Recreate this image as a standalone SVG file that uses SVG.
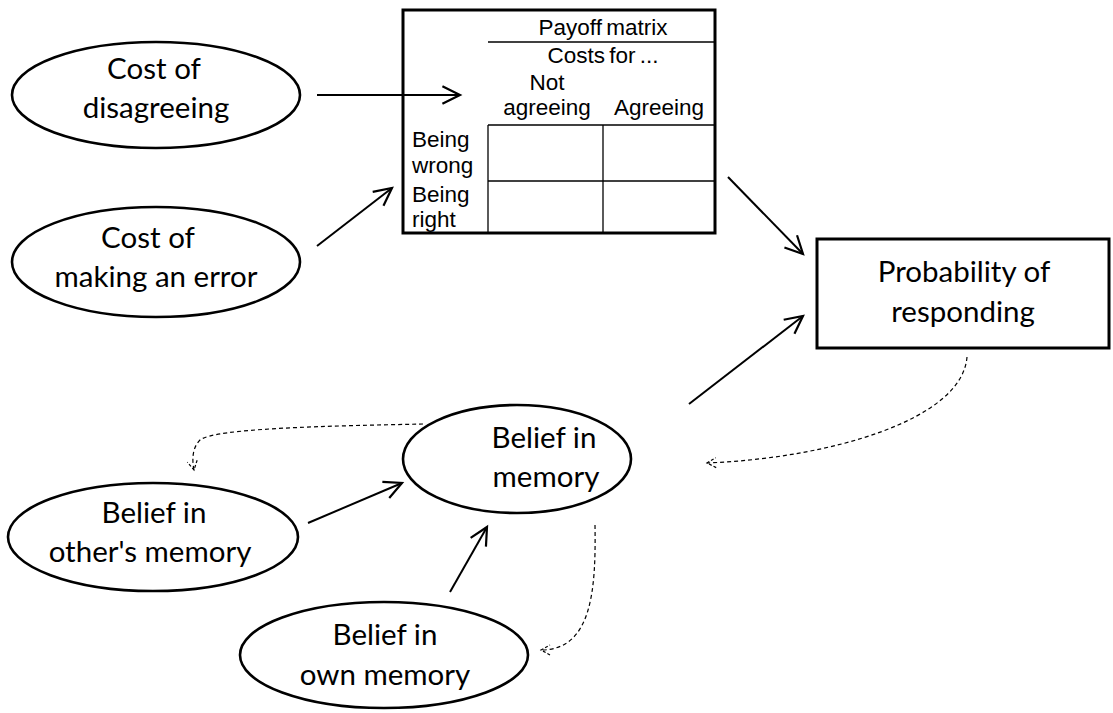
<svg xmlns="http://www.w3.org/2000/svg" width="1113" height="713" viewBox="0 0 1113 713">
<style>
.node{fill:#fff;stroke:#000;stroke-width:2.6}
.lbl{font-family:Lato,"Liberation Sans",sans-serif;font-size:29.5px;fill:#000;text-anchor:middle}
.mt{font-family:"Liberation Sans",Arial,sans-serif;font-size:22.5px;fill:#000}
.grid{stroke:#000;stroke-width:1.3;fill:none}
.arr{stroke:#000;stroke-width:2;fill:none;marker-end:url(#ah)}
.dash{stroke:#000;stroke-width:1.2;fill:none;stroke-dasharray:4 3;marker-end:url(#ahd)}
</style>
<defs>
<marker id="ah" markerUnits="userSpaceOnUse" markerWidth="22" markerHeight="22" refX="17" refY="9" orient="auto" viewBox="0 0 20 18">
<path d="M1,1 L17,9 L1,17" fill="none" stroke="#000" stroke-width="2"/>
</marker>
<marker id="ahd" markerUnits="userSpaceOnUse" markerWidth="14" markerHeight="14" refX="10" refY="6" orient="auto" viewBox="0 0 14 12">
<path d="M1,1 L10,6 L1,11" fill="none" stroke="#000" stroke-width="1.2" stroke-dasharray="3 2"/>
</marker>
</defs>
<rect width="1113" height="713" fill="#fff"/>

<g id="matrix">
<rect x="403" y="10" width="312" height="223" fill="#fff" stroke="#000" stroke-width="3"/>
<line class="grid" x1="488" y1="42" x2="715" y2="42"/>
<line class="grid" x1="488" y1="125" x2="715" y2="125"/>
<line class="grid" x1="488" y1="181" x2="715" y2="181"/>
<line class="grid" x1="488" y1="125" x2="488" y2="233"/>
<line class="grid" x1="603" y1="125" x2="603" y2="233"/>
<text class="mt" x="603" y="35" text-anchor="middle" font-size="24" word-spacing="-2">Payoff matrix</text>
<text class="mt" x="603" y="63" text-anchor="middle" word-spacing="-2">Costs for ...</text>
<text class="mt" x="547" y="90" text-anchor="middle">Not</text>
<text class="mt" x="547" y="115" text-anchor="middle">agreeing</text>
<text class="mt" x="659" y="115" text-anchor="middle">Agreeing</text>
<text class="mt" x="412" y="147">Being</text>
<text class="mt" x="412" y="173">wrong</text>
<text class="mt" x="412" y="202">Being</text>
<text class="mt" x="412" y="227">right</text>
</g>

<g id="cost-disagreeing">
<ellipse class="node" cx="156" cy="95" rx="144" ry="53"/>
<text class="lbl" x="154" y="79">Cost of</text>
<text class="lbl" x="156" y="118">disagreeing</text>
</g>

<g id="cost-error">
<ellipse class="node" cx="156" cy="262" rx="144" ry="55"/>
<text class="lbl" x="148" y="248">Cost of</text>
<text class="lbl" x="156" y="287">making an error</text>
</g>

<g id="probability">
<rect x="817" y="239" width="292" height="109" fill="#fff" stroke="#000" stroke-width="3"/>
<text class="lbl" x="964" y="282">Probability of</text>
<text class="lbl" x="963" y="322">responding</text>
</g>

<g id="belief-memory">
<ellipse class="node" cx="517" cy="459" rx="114" ry="54"/>
<text class="lbl" x="544" y="448">Belief in</text>
<text class="lbl" x="546" y="487">memory</text>
</g>

<g id="belief-other">
<ellipse class="node" cx="153" cy="537" rx="145" ry="54"/>
<text class="lbl" x="154" y="523">Belief in</text>
<text class="lbl" x="150" y="562">other's memory</text>
</g>

<g id="belief-own">
<ellipse class="node" cx="384" cy="655" rx="144" ry="53"/>
<text class="lbl" x="385" y="645">Belief in</text>
<text class="lbl" x="385" y="685">own memory</text>
</g>

<g id="connectors">
<line class="arr" x1="317" y1="95" x2="460" y2="95"/>
<line class="arr" x1="317" y1="246" x2="392" y2="188"/>
<line class="arr" x1="728" y1="177" x2="803" y2="254"/>
<line class="arr" x1="689" y1="404" x2="803" y2="316"/>
<line class="arr" x1="308" y1="523" x2="402" y2="483"/>
<line class="arr" x1="450" y1="592" x2="487" y2="527"/>
<path class="dash" d="M967,357 C962,420 830,458 707,463"/>
<path class="dash" d="M423,424 C330,426 215,428 200,440 C192,448 192,460 194,470"/>
<path class="dash" d="M595,525 C596,590 592,650 541,650"/>
</g>
</svg>
